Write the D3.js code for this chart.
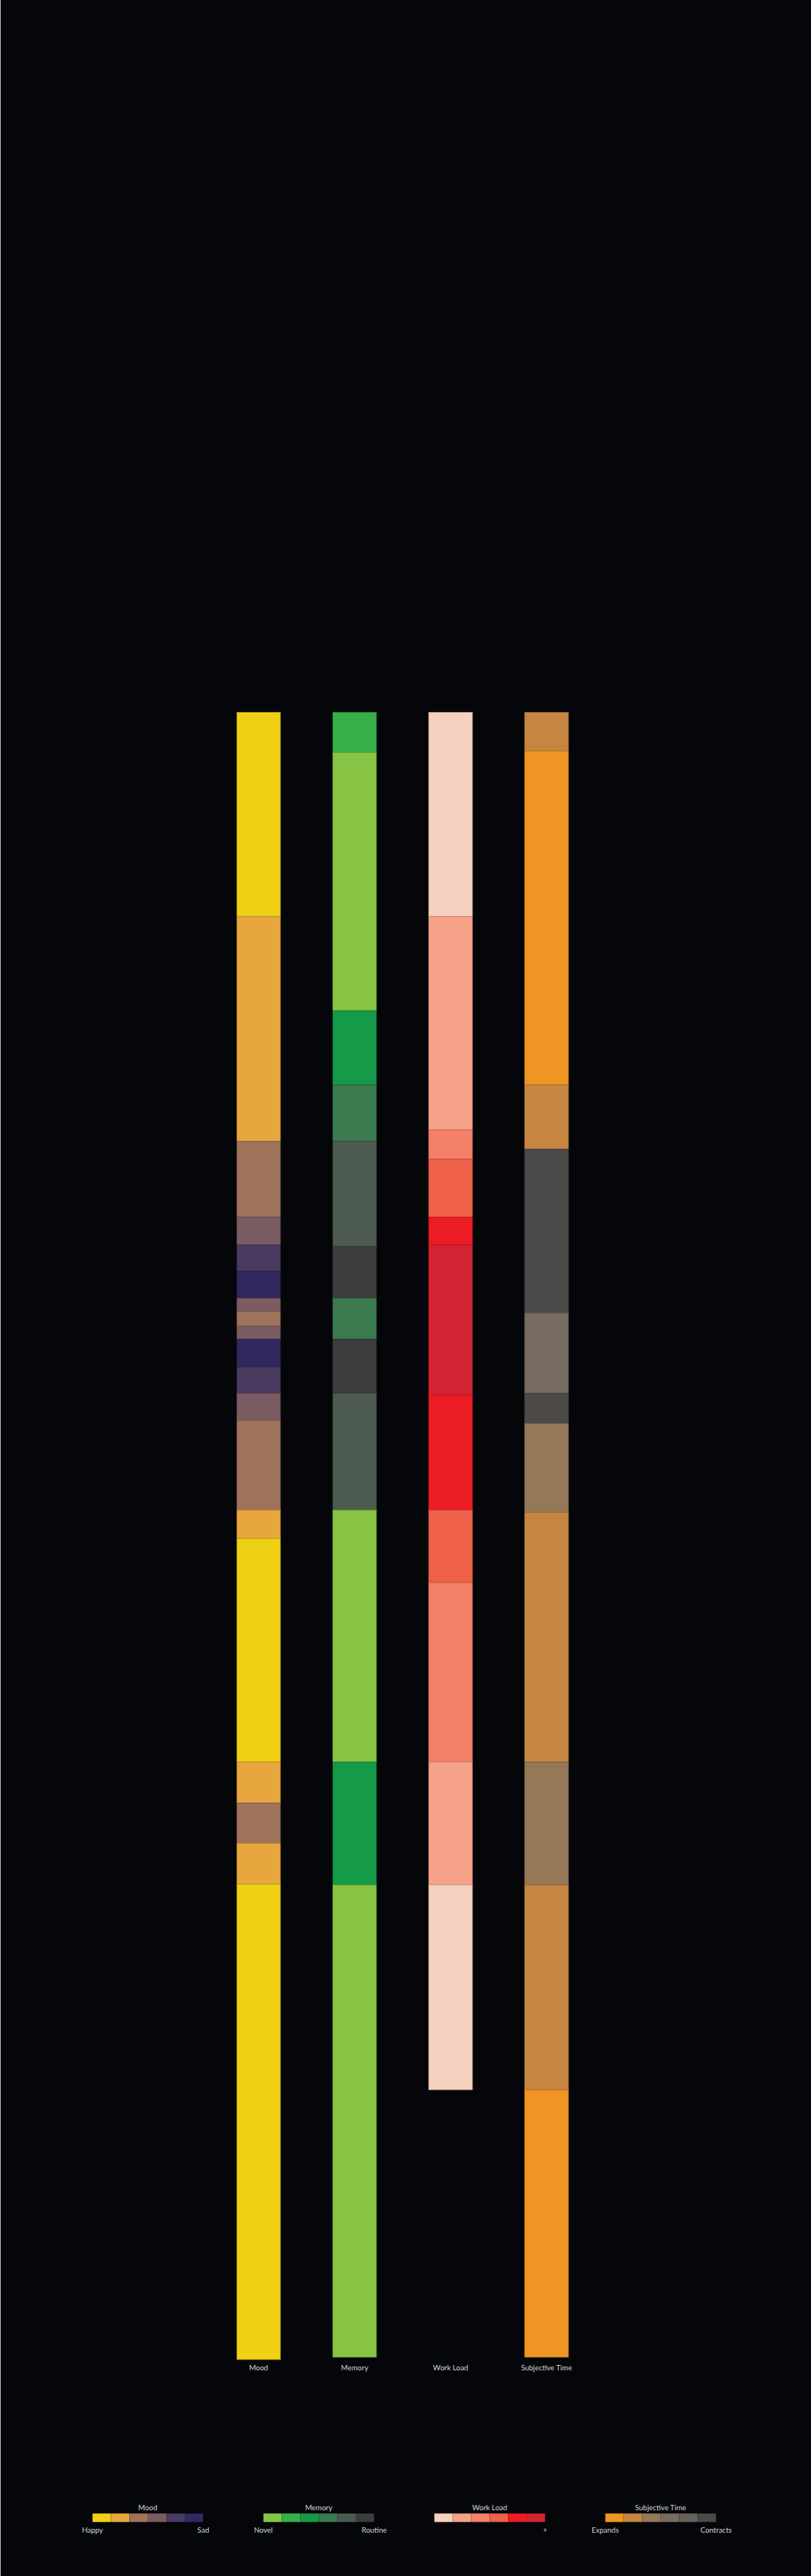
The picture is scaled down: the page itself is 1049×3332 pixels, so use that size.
<!DOCTYPE html>
<html>
<head>
<meta charset="utf-8">
<script src="https://cdn.jsdelivr.net/npm/d3@7/dist/d3.min.js"></script>
<style>
  html, body { margin: 0; padding: 0; background: #040609; }
  svg { display: block; }
  text { font-family: Lato, "Open Sans", sans-serif; fill: #d6d6d6; }
</style>
</head>
<body>
<script>
// ---- Data ----
const categories = ["Mood", "Memory", "Work Load", "Subjective Time"];

// segments: [start, end, level(1..6)] on a common time axis (0 .. 2128 units)
const moodSegments = [
  [0, 264, 1], [264, 555, 2], [555, 653, 3], [653, 689, 4], [689, 723, 5],
  [723, 758, 6], [758, 775, 4], [775, 794, 3], [794, 811, 4], [811, 847, 6],
  [847, 881, 5], [881, 916, 4], [916, 1032, 3], [1032, 1069, 2], [1069, 1358, 1],
  [1358, 1411, 2], [1411, 1463, 3], [1463, 1516, 2], [1516, 2131, 1]
];
const memorySegments = [
  [0, 52, 2], [52, 386, 1], [386, 482, 3], [482, 555, 4], [555, 691, 5],
  [691, 758, 6], [758, 811, 4], [811, 881, 6], [881, 1032, 5], [1032, 1358, 1],
  [1358, 1517, 3], [1517, 2128, 1]
];
const workLoadSegments = [
  [0, 264, 1], [264, 540, 2], [540, 578, 3], [578, 653, 4], [653, 689, 5],
  [689, 883, 6], [883, 1032, 5], [1032, 1126, 4], [1126, 1358, 3], [1358, 1517, 2],
  [1517, 1782, 1]
];
const subjectiveSegments = [
  [0, 50, 2], [50, 482, 1], [482, 565, 2], [565, 777, 6], [777, 881, 4],
  [881, 920, 6], [920, 1035, 3], [1035, 1358, 2], [1358, 1517, 3], [1517, 1782, 2],
  [1782, 2128, 1]
];

const moodColors = ["#eed115", "#e8a73e", "#9f7359", "#7b5c63", "#4b3a5f", "#30285f"];
const memoryColors = ["#88c444", "#36b04a", "#149a48", "#3a7a4e", "#4d5a50", "#3d3d3d"];
const workLoadColors = ["#f7d1c0", "#f5a288", "#f4806a", "#ef6148", "#ec1c24", "#d22333"];
const subjectiveColors = ["#ef9524", "#c68642", "#957857", "#786c62", "#66605b", "#4b4a48"];

const legendLow = ["Happy", "Novel", "", "Expands"];
const legendHigh = ["Sad", "Routine", "+", "Contracts"];

const series = [moodSegments, memorySegments, workLoadSegments, subjectiveSegments];
const palettes = [moodColors, memoryColors, workLoadColors, subjectiveColors];
const levels = [1, 2, 3, 4, 5, 6];

// ---- Layout ----
const W = 1049, H = 3332;
const svg = d3.select("body").append("svg").attr("width", W).attr("height", H);
svg.append("rect").attr("width", W).attr("height", H).attr("fill", "#040609");
svg.append("line").attr("x1", 0.5).attr("x2", 0.5).attr("y1", 0).attr("y2", H)
  .attr("stroke", "#b8b8b8").attr("stroke-width", 1);

const barW = 56.5, barStep = 124.13;
const x = d3.scaleBand().domain(categories).range([306.3, 306.3 + 3 * barStep + barW])
  .paddingInner(1 - barW / barStep).paddingOuter(0);
const y = d3.scaleLinear().domain([0, 2128]).range([921.3, 3049]);

categories.forEach((cat, i) => {
  const color = d3.scaleOrdinal().domain(levels).range(palettes[i]);
  const g = svg.append("g");
  g.selectAll("rect").data(series[i]).join("rect")
    .attr("x", x(cat))
    .attr("width", x.bandwidth())
    .attr("y", d => y(d[0]))
    .attr("height", d => y(d[1]) - y(d[0]))
    .attr("fill", d => color(d[2]))
    .attr("stroke", d => d3.color(color(d[2])).darker(0.7))
    .attr("stroke-width", 0.7);
  svg.append("text")
    .attr("x", x(cat) + x.bandwidth() / 2)
    .attr("y", 3066)
    .attr("text-anchor", "middle")
    .attr("font-size", 9.5)
    .text(cat);
});

// ---- Legends ----
const legW = 143.4, legStep = 221.1;
const lx = d3.scaleBand().domain(categories).range([119.5, 119.5 + 3 * legStep + legW])
  .paddingInner(1 - legW / legStep).paddingOuter(0);
const sw = d3.scaleBand().domain(levels).range([0, lx.bandwidth()]);

categories.forEach((cat, i) => {
  const color = d3.scaleOrdinal().domain(levels).range(palettes[i]);
  const g = svg.append("g").attr("transform", `translate(${lx(cat)},0)`);
  g.selectAll("rect").data(levels).join("rect")
    .attr("x", d => sw(d))
    .attr("width", sw.bandwidth())
    .attr("y", 3251)
    .attr("height", 11.3)
    .attr("fill", d => color(d));
  g.append("rect").attr("x", 0).attr("y", 3251).attr("width", lx.bandwidth()).attr("height", 11.3)
    .attr("fill", "none").attr("stroke", "rgba(0,0,0,0.35)").attr("stroke-width", 0.8);
  g.append("text").attr("x", lx.bandwidth() / 2).attr("y", 3246.5)
    .attr("text-anchor", "middle").attr("font-size", 9.5).text(cat);
  g.append("text").attr("x", 0).attr("y", 3275.5)
    .attr("text-anchor", "middle").attr("font-size", 9.5).text(legendLow[i]);
  g.append("text").attr("x", lx.bandwidth()).attr("y", 3275.5)
    .attr("text-anchor", "middle").attr("font-size", 9.5).text(legendHigh[i]);
});
</script>
</body>
</html>
